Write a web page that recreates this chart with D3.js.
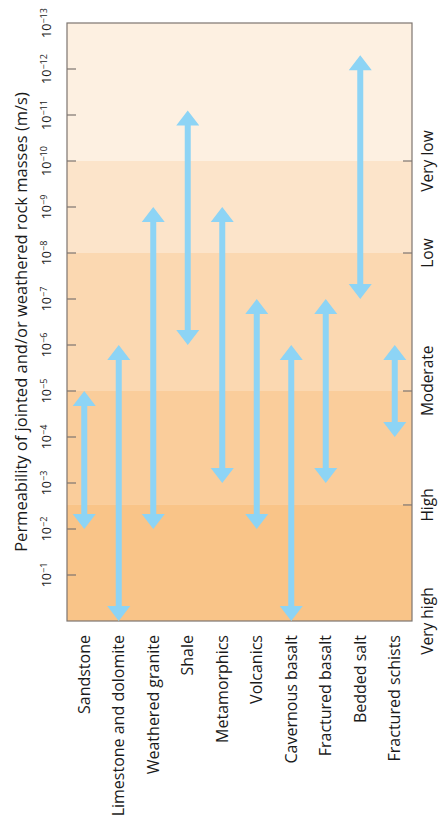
<!DOCTYPE html>
<html>
<head>
<meta charset="utf-8">
<script src="https://cdn.jsdelivr.net/npm/d3@7"></script>
<style>
  body { margin: 0; background: #fff; }
  text { font-family: "Open Sans", "Noto Sans", sans-serif; fill: #1a1a1a; }
</style>
</head>
<body>
<div id="chart"></div>
<script>
// rock types along the bottom
const rocks = ['Sandstone', 'Limestone and dolomite', 'Weathered granite', 'Shale', 'Metamorphics',
  'Volcanics', 'Cavernous basalt', 'Fractured basalt', 'Bedded salt', 'Fractured schists'];
// permeability range (m/s) for each rock: lowest and highest
const kLow = [1e-5, 1e-6, 1e-9, 8e-12, 1e-9, 1e-7, 1e-6, 1e-7, 5e-13, 1e-6];
const kHigh = [1e-2, 1, 1e-2, 1e-6, 1e-3, 1e-2, 1, 1e-3, 1e-7, 1e-4];
// axis tick exponents
const tickExps = [-13, -12, -11, -10, -9, -8, -7, -6, -5, -4, -3, -2, -1];
// permeability classes: band limits and where the label sits
const classNames = ['Very low', 'Low', 'Moderate', 'High', 'Very high'];
const classFrom = [1e-13, 1e-10, 1e-8, 1e-5, 3e-3];
const classTo = [1e-10, 1e-8, 1e-5, 3e-3, 1];
const classLabelAt = [1e-10, 1e-8, 6e-6, 3e-3, 1];
const classColors = ['#fdf0e1', '#fce4ca', '#fbd8b1', '#facd9b', '#f9c488'];

const margin = { top: 23, right: 29, bottom: 204, left: 67 };
const W = 441, H = 825;
const width = W - margin.left - margin.right;
const height = H - margin.top - margin.bottom;

const svg = d3.select('#chart').append('svg')
  .attr('width', W).attr('height', H);
const g = svg.append('g').attr('transform', `translate(${margin.left},${margin.top})`);

const x = d3.scaleBand().domain(rocks).range([0, width]).padding(0);
const y = d3.scaleLog().domain([1e-13, 1]).range([0, height]);

// class bands
g.selectAll('.band')
  .data(classNames)
  .join('rect')
  .attr('class', 'band')
  .attr('x', 0)
  .attr('width', width)
  .attr('y', (d, i) => y(classFrom[i]))
  .attr('height', (d, i) => y(classTo[i]) - y(classFrom[i]))
  .attr('fill', (d, i) => classColors[i]);

// frame
g.append('rect')
  .attr('width', width).attr('height', height)
  .attr('fill', 'none').attr('stroke', '#7d7570').attr('stroke-width', 1.2);

// left ticks (inside)
g.selectAll('.ltick')
  .data(tickExps.slice(1))
  .join('line')
  .attr('x1', 0).attr('x2', 9)
  .attr('y1', d => y(Math.pow(10, d))).attr('y2', d => y(Math.pow(10, d)))
  .attr('stroke', '#7d7570').attr('stroke-width', 1.2);

// right ticks at class limits
g.selectAll('.rtick')
  .data(classTo.slice(0, -1))
  .join('line')
  .attr('x1', width - 9).attr('x2', width)
  .attr('y1', d => y(d)).attr('y2', d => y(d))
  .attr('stroke', '#7d7570').attr('stroke-width', 1.2);

// tick labels 10^n, rotated
const tl = g.selectAll('.tlab')
  .data(tickExps)
  .join('text')
  .attr('class', 'tlab')
  .attr('transform', d => `translate(-16,${y(Math.pow(10, d))}) rotate(-90)`)
  .attr('text-anchor', 'middle')
  .style('font-size', '12.5px');
tl.append('tspan').text('10');
tl.append('tspan').attr('dy', '-0.4em').style('font-size', '9px').text(d => '\u2212' + (-d));

// arrows
const shaft = 3, headW = 11.5, headH = 15;
function arrowPath(i) {
  const cx = x(rocks[i]) + x.bandwidth() / 2;
  const t = y(kLow[i]), b = y(kHigh[i]);
  return `M${cx},${t} L${cx + headW},${t + headH} L${cx + shaft},${t + headH} ` +
    `L${cx + shaft},${b - headH} L${cx + headW},${b - headH} L${cx},${b} ` +
    `L${cx - headW},${b - headH} L${cx - shaft},${b - headH} L${cx - shaft},${t + headH} ` +
    `L${cx - headW},${t + headH} Z`;
}
g.selectAll('.arrow')
  .data(rocks)
  .join('path')
  .attr('class', 'arrow')
  .attr('d', (d, i) => arrowPath(i))
  .attr('fill', '#8dd4f5');

// rock labels
g.selectAll('.rlab')
  .data(rocks)
  .join('text')
  .attr('transform', d => `translate(${x(d) + x.bandwidth() / 2},${height + 14}) rotate(-90)`)
  .attr('text-anchor', 'end')
  .attr('dy', '0.35em')
  .style('font-size', '16px')
  .text(d => d);

// class labels on the right
g.selectAll('.clab')
  .data(classNames)
  .join('text')
  .attr('transform', (d, i) => `translate(${width + 16},${y(classLabelAt[i])}) rotate(-90)`)
  .attr('text-anchor', 'middle')
  .attr('dy', '0.35em')
  .style('font-size', '15.5px')
  .text(d => d);

// axis title
g.append('text')
  .attr('transform', `translate(-40,${height / 2}) rotate(-90)`)
  .attr('text-anchor', 'middle')
  .style('font-size', '16.5px')
  .text('Permeability of jointed and/or weathered rock masses (m/s)');
</script>
</body>
</html>
